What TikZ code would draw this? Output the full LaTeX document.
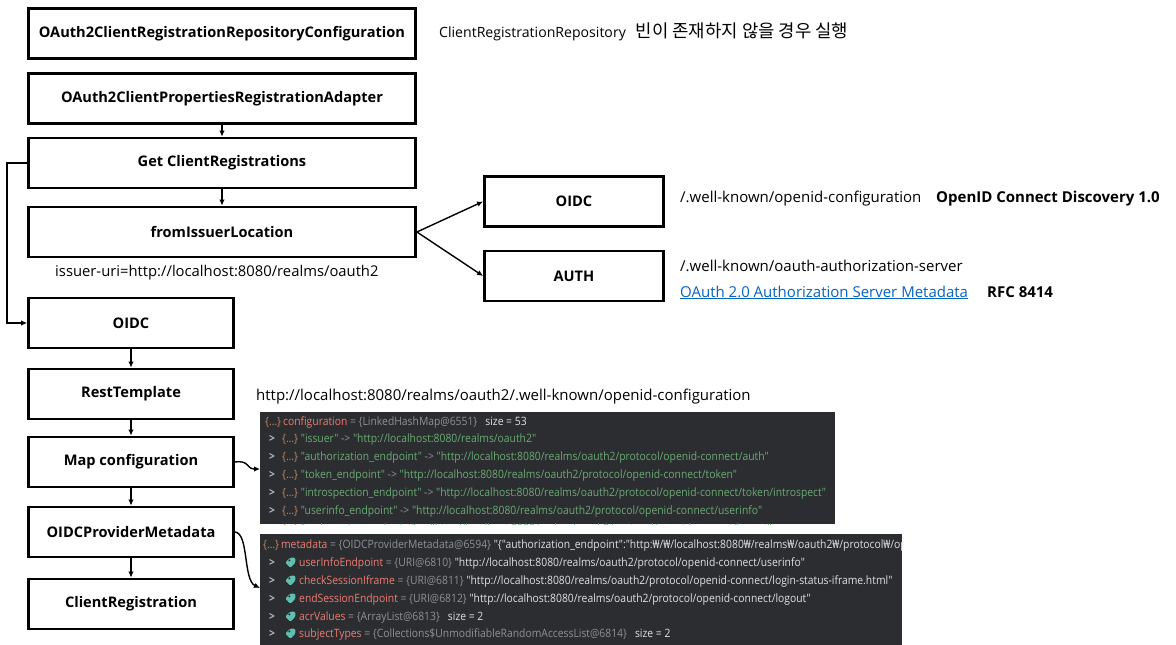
\documentclass[tikz,border=0pt]{standalone}
\usepackage{fontspec}
\setmainfont{Open Sans}
\newfontfamily\krfont{Noto Sans CJK KR}
\newfontfamily\pfont[FakeStretch=0.9]{Open Sans}
\newfontfamily\wonfont[FakeStretch=0.9]{Noto Sans}
\usetikzlibrary{arrows.meta}
\definecolor{panelbg}{HTML}{2B2D30}
\definecolor{pbrace}{HTML}{C98A5E}
\definecolor{pname}{HTML}{F07C73}
\definecolor{pgray}{HTML}{8E9197}
\definecolor{pwhite}{HTML}{DFE1E5}
\definecolor{pstr}{HTML}{6AAB73}
\definecolor{pchev}{HTML}{B4B8BF}
\definecolor{ptag}{HTML}{5FBFB0}
\definecolor{linkblue}{HTML}{0563C1}
\newcommand{\ibr}{\textcolor{pbrace}{\{…\}}}
\newcommand{\won}{{\wonfont ₩}}
\tikzset{
  box/.style={draw, line width=2.8pt, inner sep=0pt, minimum height=50pt,
    font=\fontsize{14.6}{16}\selectfont\bfseries},
  wbox/.style={box, minimum width=387pt},
  nbox/.style={box, minimum width=205pt},
  rbox/.style={box, minimum width=179pt},
  conn/.style={line width=1.4pt, -{Latex[length=6pt,width=5.5pt]}},
  txt/.style={anchor=base west, inner sep=0pt, font=\fontsize{15}{16}\selectfont},
  btxt/.style={txt, font=\fontsize{15}{16}\selectfont\bfseries},
  ptxt/.style={anchor=base west, inner sep=0pt, font=\pfont\fontsize{11.5}{13}\selectfont},
  chev/.style={anchor=base west, inner sep=0pt, text=pchev, font=\pfont\fontsize{11.5}{13}\selectfont\bfseries},
  panel/.style={fill=panelbg, draw=none, inner sep=0pt},
  tagpic/.pic={\fill[ptag, rotate=45, rounded corners=1.2pt] (-4.5,-3.6) -- (2.5,-3.6) -- (6,0) -- (2.5,3.6) -- (-4.5,3.6) -- cycle;
               \fill[panelbg] (-1.6,-1.6) circle (1.1pt);}
}
\begin{document}
\begin{tikzpicture}[x=1pt, y=-1pt]
\useasboundingbox (0,0) rectangle (1176,645);

% left column boxes
\node[wbox] (b1) at (222,33.5) {OAuth2ClientRegistrationRepositoryConfiguration};
\node[wbox] (b2) at (222,98.5) {OAuth2ClientPropertiesRegistrationAdapter};
\node[wbox] (b3) at (222,163) {Get ClientRegistrations};
\node[wbox] (b4) at (222,232) {fromIssuerLocation};
\node[nbox] (o1) at (131,323) {OIDC};
\node[nbox] (rt) at (131,394) {RestTemplate};
\node[nbox] (mc) at (131,462) {Map configuration};
\node[nbox] (pm) at (131,532) {OIDCProviderMetadata};
\node[nbox] (cr) at (131,604) {ClientRegistration};

% right boxes
\node[rbox] (ro) at (574,201.5) {OIDC};
\node[rbox] (ra) at (574,276) {AUTH};

% texts
\node[txt, font=\fontsize{14.1}{16}\selectfont] (t1) at (439,37) {ClientRegistrationRepository\hspace{10pt}{\krfont\fontsize{17.8}{18}\selectfont 빈이 존재하지 않을 경우 실행}};
\node[txt] (t2) at (680,202) {/.well-known/openid-configuration};
\node[btxt] (t3) at (936,202) {OpenID Connect Discovery 1.0};
\node[txt] (t4) at (680,271) {/.well-known/oauth-authorization-server};
\node[txt, text=linkblue] (t5) at (680,297) {\underline{OAuth 2.0 Authorization Server Metadata}};
\node[btxt] (t6) at (987,297) {RFC 8414};
\node[txt, font=\fontsize{14.8}{16}\selectfont] (t7) at (55,276) {issuer-uri=http://localhost:8080/realms/oauth2};
\node[txt] (t8) at (256,400) {http://localhost:8080/realms/oauth2/.well-known/openid-configuration};

% panels
\node[panel, minimum width=575pt, minimum height=112pt] (p1) at (547.5,468) {};
\node[panel, minimum width=642pt, minimum height=111pt] (p2) at (581,589.5) {};

\begin{scope}
\clip (260,412) rectangle (835,524);
\node[ptxt] (p1h) at (265,425) {\ibr\,\textcolor{pname}{configuration} \textcolor{pgray}{= \{LinkedHashMap@6551\}}\hspace{8pt}\textcolor{pwhite}{size = 53}};
\foreach \yy in {442,460,478,496,514,532} \node[chev] at (269,\yy) {>};
\node[ptxt] (p1a) at (282,442) {\ibr\ \textcolor{pstr}{"issuer"} \textcolor{pgray}{->} \textcolor{pstr}{"http://localhost:8080/realms/oauth2"}};
\node[ptxt] (p1b) at (282,460) {\ibr\ \textcolor{pstr}{"authorization\_endpoint"} \textcolor{pgray}{->} \textcolor{pstr}{"http://localhost:8080/realms/oauth2/protocol/openid-connect/auth"}};
\node[ptxt] (p1c) at (282,478) {\ibr\ \textcolor{pstr}{"token\_endpoint"} \textcolor{pgray}{->} \textcolor{pstr}{"http://localhost:8080/realms/oauth2/protocol/openid-connect/token"}};
\node[ptxt] (p1d) at (282,496) {\ibr\ \textcolor{pstr}{"introspection\_endpoint"} \textcolor{pgray}{->} \textcolor{pstr}{"http://localhost:8080/realms/oauth2/protocol/openid-connect/token/introspect"}};
\node[ptxt] (p1e) at (282,514) {\ibr\ \textcolor{pstr}{"userinfo\_endpoint"} \textcolor{pgray}{->} \textcolor{pstr}{"http://localhost:8080/realms/oauth2/protocol/openid-connect/userinfo"}};
\node[ptxt] (p1f) at (282,532) {\ibr\ \textcolor{pstr}{"end\_session\_endpoint"} \textcolor{pgray}{->} \textcolor{pstr}{"http://localhost:8080/realms/oauth2/protocol/openid-connect/logout"}};
\end{scope}

\begin{scope}
\clip (260,534) rectangle (902,645);
\node[ptxt] (p2h) at (263,548) {\ibr\,\textcolor{pname}{metadata} \textcolor{pgray}{= \{OIDCProviderMetadata@6594\}} \textcolor{pwhite}{"\{"authorization\_endpoint":"http:\won/\won/localhost:8080\won/realms\won/oauth2\won/protocol\won/openid-connect\won/auth"}};
\foreach \yy in {566,584,602,620,637} \node[chev] at (269,\yy) {>};
\node[ptxt] (p2a) at (299,566) {\textcolor{pname}{userInfoEndpoint} \textcolor{pgray}{= \{URI@6810\}} \textcolor{pwhite}{"http://localhost:8080/realms/oauth2/protocol/openid-connect/userinfo"}};
\node[ptxt] (p2b) at (299,584) {\textcolor{pname}{checkSessionIframe} \textcolor{pgray}{= \{URI@6811\}} \textcolor{pwhite}{"http://localhost:8080/realms/oauth2/protocol/openid-connect/login-status-iframe.html"}};
\node[ptxt] (p2c) at (299,602) {\textcolor{pname}{endSessionEndpoint} \textcolor{pgray}{= \{URI@6812\}} \textcolor{pwhite}{"http://localhost:8080/realms/oauth2/protocol/openid-connect/logout"}};
\node[ptxt] (p2d) at (299,620) {\textcolor{pname}{acrValues} \textcolor{pgray}{= \{ArrayList@6813\}}\hspace{8pt}\textcolor{pwhite}{size = 2}};
\node[ptxt] (p2e) at (299,637) {\textcolor{pname}{subjectTypes} \textcolor{pgray}{= \{Collections\$UnmodifiableRandomAccessList@6814\}}\hspace{8pt}\textcolor{pwhite}{size = 2}};
\pic at (291,562) {tagpic};
\pic at (291,580) {tagpic};
\pic at (291,598) {tagpic};
\pic at (291,616) {tagpic};
\pic at (291,633) {tagpic};
\end{scope}

% connectors
\draw[conn] (b2.south) -- (b3.north);
\draw[conn] (b3.south) -- (b4.north);
\draw[conn] (b3.west) -- ++(-20,0) |- (o1.west);
\draw[conn] (b4.east) -- (ro.west);
\draw[conn] (b4.east) -- (ra.west);
\draw[conn] (o1.south) -- (rt.north);
\draw[conn] (rt.south) -- (mc.north);
\draw[conn] (mc.south) -- (pm.north);
\draw[conn] (pm.south) -- (cr.north);
\coordinate (p1in) at (260,469);
\coordinate (p2in) at (260,588);
\draw[conn] (mc.east) .. controls (250,460) and (246,469) .. (p1in);
\draw[conn] (pm.east) .. controls (249,533) and (243,580) .. (p2in);
\end{tikzpicture}
\end{document}
